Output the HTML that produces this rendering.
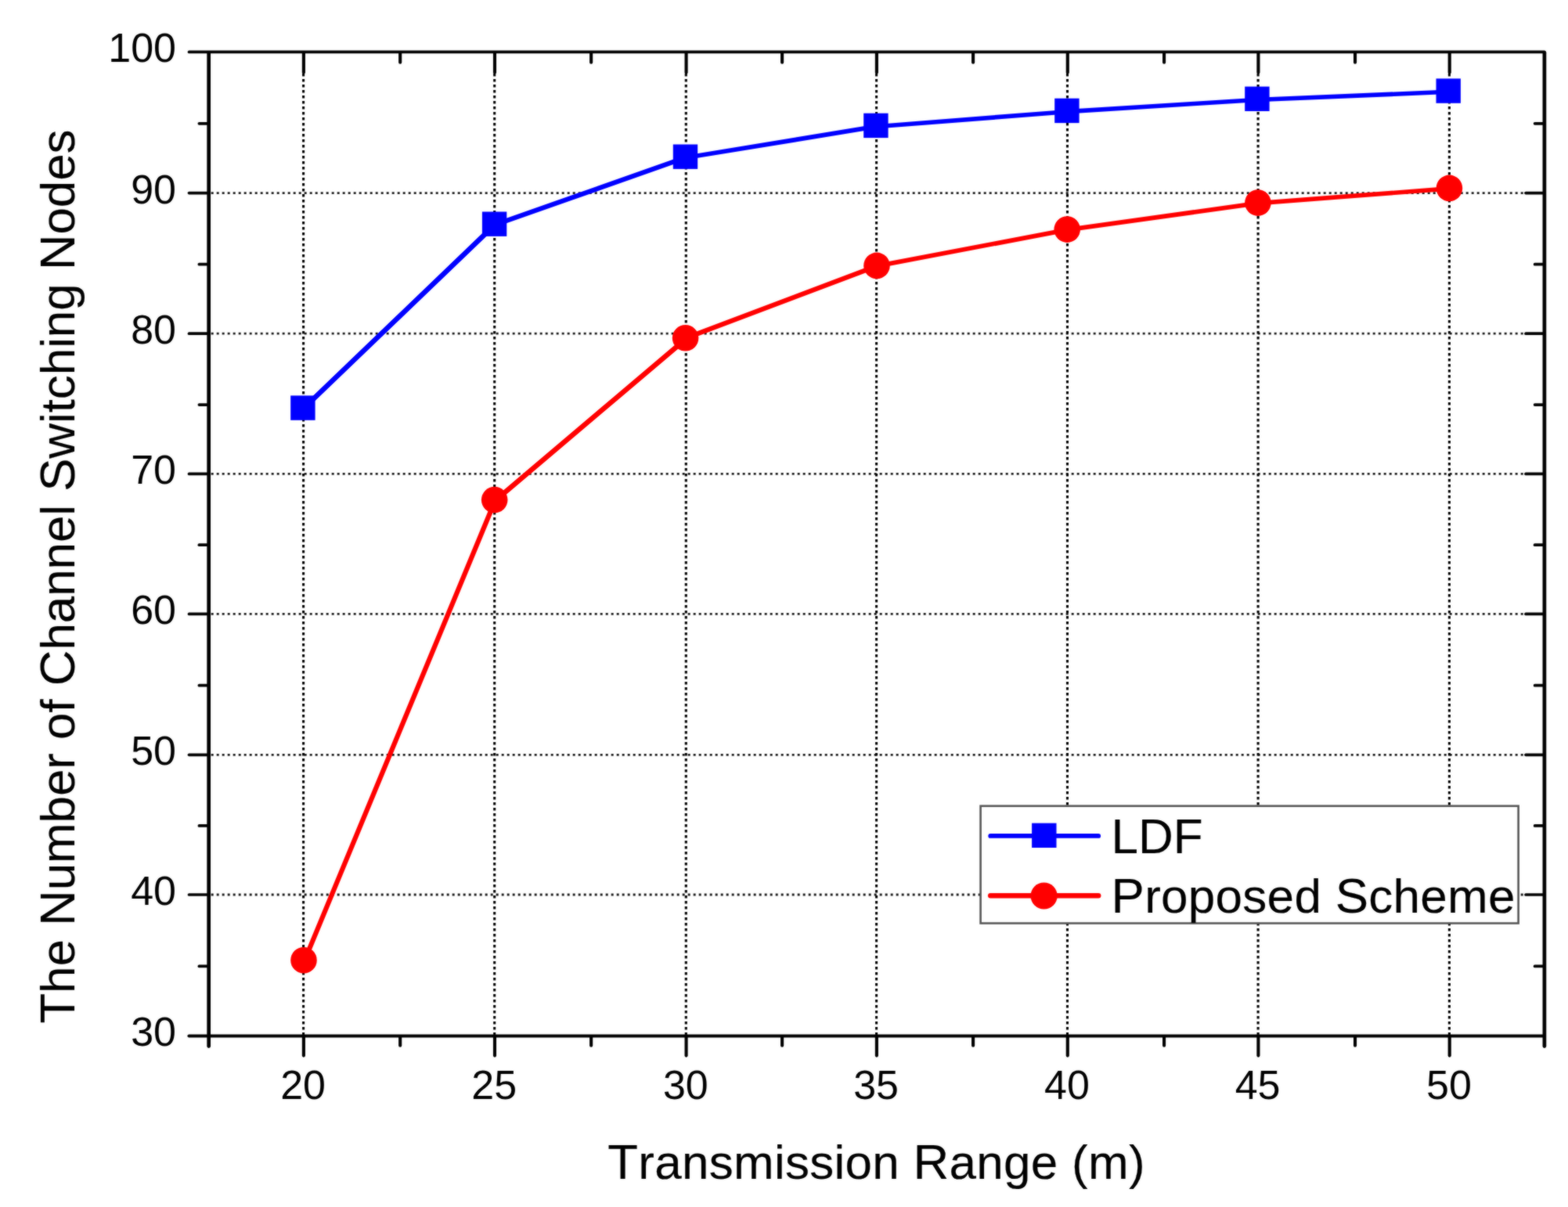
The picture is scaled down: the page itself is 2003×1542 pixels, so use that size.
<!DOCTYPE html>
<html lang="en">
<head>
<meta charset="utf-8">
<title>The Number of Channel Switching Nodes vs Transmission Range</title>
<style>
html,body{margin:0;padding:0;background:#fff;overflow:hidden;}
body{width:2003px;height:1542px;overflow:hidden;}
svg{display:block;}
text{font-family:"Liberation Sans","DejaVu Sans",sans-serif;fill:#000;}
</style>
</head>
<body>
<svg width="2003" height="1542" viewBox="0 0 2003 1542" role="img" aria-label="Line chart: number of channel switching nodes versus transmission range">
<defs><filter id="soft" filterUnits="userSpaceOnUse" x="0" y="0" width="2003" height="1542" color-interpolation-filters="sRGB"><feGaussianBlur in="SourceGraphic" stdDeviation="0.9" result="b"/><feComposite in="SourceGraphic" in2="b" operator="arithmetic" k1="0" k2="0.5" k3="0.5" k4="0"/></filter></defs>
<g filter="url(#soft)">
<rect x="0" y="0" width="2003" height="1542" fill="#ffffff"/>
<g fill="none" stroke="#000" stroke-width="3.1" stroke-dasharray="3.3 3.7">
<line x1="387.60" y1="94.10" x2="387.60" y2="1323.30"/>
<line x1="631.70" y1="94.10" x2="631.70" y2="1323.30"/>
<line x1="876.30" y1="94.10" x2="876.30" y2="1323.30"/>
<line x1="1119.60" y1="94.10" x2="1119.60" y2="1323.30"/>
<line x1="1363.50" y1="94.10" x2="1363.50" y2="1323.30"/>
<line x1="1607.10" y1="94.10" x2="1607.10" y2="1323.30"/>
<line x1="1851.40" y1="94.10" x2="1851.40" y2="1323.30"/>
</g>
<g fill="none" stroke="#000" stroke-width="2.8" stroke-dasharray="3 4" stroke-opacity="0.9">
<line x1="269.70" y1="1143.00" x2="1947.20" y2="1143.00"/>
<line x1="269.70" y1="964.30" x2="1947.20" y2="964.30"/>
<line x1="269.70" y1="784.40" x2="1947.20" y2="784.40"/>
<line x1="269.70" y1="605.40" x2="1947.20" y2="605.40"/>
<line x1="269.70" y1="426.20" x2="1947.20" y2="426.20"/>
<line x1="269.70" y1="246.60" x2="1947.20" y2="246.60"/>
</g>
<g fill="none" stroke="#0000ff" stroke-linecap="round">
<line x1="386.9" y1="522.6" x2="631.6" y2="287.7" stroke-width="6.49"/>
<line x1="631.6" y1="287.4" x2="875.5" y2="201.4" stroke-width="6.12"/>
<line x1="875.5" y1="201.5" x2="1118.9" y2="161.7" stroke-width="5.82"/>
<line x1="1118.9" y1="161.7" x2="1362.9" y2="142.7" stroke-width="5.65"/>
<line x1="1362.9" y1="142.6" x2="1605.9" y2="127.5" stroke-width="5.62"/>
<line x1="1605.9" y1="127.5" x2="1850.2" y2="117.3" stroke-width="5.58"/>
</g>
<rect x="371.20" y="505.40" width="31.4" height="31.4" fill="#0000ff"/>
<rect x="615.90" y="270.50" width="31.4" height="31.4" fill="#0000ff"/>
<rect x="859.80" y="184.50" width="31.4" height="31.4" fill="#0000ff"/>
<rect x="1103.20" y="144.70" width="31.4" height="31.4" fill="#0000ff"/>
<rect x="1347.20" y="125.70" width="31.4" height="31.4" fill="#0000ff"/>
<rect x="1590.20" y="110.60" width="31.4" height="31.4" fill="#0000ff"/>
<rect x="1834.50" y="100.40" width="31.4" height="31.4" fill="#0000ff"/>
<g fill="none" stroke="#ff0000" stroke-linecap="round">
<line x1="389.1" y1="1226.9" x2="632.8" y2="638.8" stroke-width="6.20"/>
<line x1="632.3" y1="639.8" x2="876.2" y2="433.0" stroke-width="6.48"/>
<line x1="875.6" y1="432.2" x2="1120.0" y2="339.8" stroke-width="6.15"/>
<line x1="1120.0" y1="339.9" x2="1363.2" y2="293.6" stroke-width="5.86"/>
<line x1="1363.2" y1="293.6" x2="1606.9" y2="259.6" stroke-width="5.77"/>
<line x1="1606.9" y1="259.6" x2="1851.4" y2="240.9" stroke-width="5.65"/>
</g>
<circle cx="388.00" cy="1226.70" r="16.8" fill="#ff0000"/>
<circle cx="631.70" cy="638.60" r="16.8" fill="#ff0000"/>
<circle cx="875.60" cy="431.80" r="16.8" fill="#ff0000"/>
<circle cx="1120.00" cy="339.40" r="16.8" fill="#ff0000"/>
<circle cx="1363.20" cy="293.10" r="16.8" fill="#ff0000"/>
<circle cx="1606.90" cy="259.10" r="16.8" fill="#ff0000"/>
<circle cx="1851.40" cy="240.40" r="16.8" fill="#ff0000"/>
<g fill="none" stroke="#000" stroke-width="3.7" stroke-linecap="round">
<line x1="241.50" y1="66.40" x2="1972.90" y2="66.40"/>
<line x1="241.50" y1="1323.50" x2="1972.90" y2="1323.50" stroke-width="4.2"/>
<line x1="265.70" y1="1234.42" x2="254.40" y2="1234.42"/>
<line x1="1971.90" y1="1234.42" x2="1960.60" y2="1234.42"/>
<line x1="265.70" y1="1143.00" x2="241.50" y2="1143.00"/>
<line x1="1971.90" y1="1143.00" x2="1949.00" y2="1143.00"/>
<line x1="265.70" y1="1054.95" x2="254.40" y2="1054.95"/>
<line x1="1971.90" y1="1054.95" x2="1960.60" y2="1054.95"/>
<line x1="265.70" y1="964.30" x2="241.50" y2="964.30"/>
<line x1="1971.90" y1="964.30" x2="1949.00" y2="964.30"/>
<line x1="265.70" y1="875.65" x2="254.40" y2="875.65"/>
<line x1="1971.90" y1="875.65" x2="1960.60" y2="875.65"/>
<line x1="265.70" y1="784.40" x2="241.50" y2="784.40"/>
<line x1="1971.90" y1="784.40" x2="1949.00" y2="784.40"/>
<line x1="265.70" y1="696.20" x2="254.40" y2="696.20"/>
<line x1="1971.90" y1="696.20" x2="1960.60" y2="696.20"/>
<line x1="265.70" y1="605.40" x2="241.50" y2="605.40"/>
<line x1="1971.90" y1="605.40" x2="1949.00" y2="605.40"/>
<line x1="265.70" y1="517.10" x2="254.40" y2="517.10"/>
<line x1="1971.90" y1="517.10" x2="1960.60" y2="517.10"/>
<line x1="265.70" y1="426.20" x2="241.50" y2="426.20"/>
<line x1="1971.90" y1="426.20" x2="1949.00" y2="426.20"/>
<line x1="265.70" y1="337.70" x2="254.40" y2="337.70"/>
<line x1="1971.90" y1="337.70" x2="1960.60" y2="337.70"/>
<line x1="265.70" y1="246.60" x2="241.50" y2="246.60"/>
<line x1="1971.90" y1="246.60" x2="1949.00" y2="246.60"/>
<line x1="265.70" y1="157.80" x2="254.40" y2="157.80"/>
<line x1="1971.90" y1="157.80" x2="1960.60" y2="157.80"/>
</g>
<g fill="none" stroke="#000" stroke-width="4.7" stroke-linecap="round">
<line x1="266.70" y1="67.30" x2="266.70" y2="1336.60"/>
<line x1="1972.90" y1="67.30" x2="1972.90" y2="1336.60"/>
</g>
<g fill="none" stroke="#000" stroke-width="4.1" stroke-linecap="round">
<line x1="387.90" y1="1324.30" x2="387.90" y2="1348.60"/>
<line x1="387.90" y1="67.40" x2="387.90" y2="92.60"/>
<line x1="511.19" y1="1324.30" x2="511.19" y2="1335.70"/>
<line x1="511.19" y1="67.40" x2="511.19" y2="79.70"/>
<line x1="632.00" y1="1324.30" x2="632.00" y2="1348.60"/>
<line x1="632.00" y1="67.40" x2="632.00" y2="92.60"/>
<line x1="755.16" y1="1324.30" x2="755.16" y2="1335.70"/>
<line x1="755.16" y1="67.40" x2="755.16" y2="79.70"/>
<line x1="876.60" y1="1324.30" x2="876.60" y2="1348.60"/>
<line x1="876.60" y1="67.40" x2="876.60" y2="92.60"/>
<line x1="999.12" y1="1324.30" x2="999.12" y2="1335.70"/>
<line x1="999.12" y1="67.40" x2="999.12" y2="79.70"/>
<line x1="1119.90" y1="1324.30" x2="1119.90" y2="1348.60"/>
<line x1="1119.90" y1="67.40" x2="1119.90" y2="92.60"/>
<line x1="1243.10" y1="1324.30" x2="1243.10" y2="1335.70"/>
<line x1="1243.10" y1="67.40" x2="1243.10" y2="79.70"/>
<line x1="1363.80" y1="1324.30" x2="1363.80" y2="1348.60"/>
<line x1="1363.80" y1="67.40" x2="1363.80" y2="92.60"/>
<line x1="1487.07" y1="1324.30" x2="1487.07" y2="1335.70"/>
<line x1="1487.07" y1="67.40" x2="1487.07" y2="79.70"/>
<line x1="1607.40" y1="1324.30" x2="1607.40" y2="1348.60"/>
<line x1="1607.40" y1="67.40" x2="1607.40" y2="92.60"/>
<line x1="1731.03" y1="1324.30" x2="1731.03" y2="1335.70"/>
<line x1="1731.03" y1="67.40" x2="1731.03" y2="79.70"/>
<line x1="1851.70" y1="1324.30" x2="1851.70" y2="1348.60"/>
<line x1="1851.70" y1="67.40" x2="1851.70" y2="92.60"/>
</g>
<text transform="translate(387.10,1403.70)" font-size="52" text-anchor="middle">20</text>
<text transform="translate(631.20,1403.70)" font-size="52" text-anchor="middle">25</text>
<text transform="translate(875.80,1403.70)" font-size="52" text-anchor="middle">30</text>
<text transform="translate(1119.10,1403.70)" font-size="52" text-anchor="middle">35</text>
<text transform="translate(1363.00,1403.70)" font-size="52" text-anchor="middle">40</text>
<text transform="translate(1606.60,1403.70)" font-size="52" text-anchor="middle">45</text>
<text transform="translate(1850.90,1403.70)" font-size="52" text-anchor="middle">50</text>
<text transform="translate(225.00,1336.25)" font-size="52" text-anchor="end">30</text>
<text transform="translate(225.00,1156.00)" font-size="52" text-anchor="end">40</text>
<text transform="translate(225.00,977.30)" font-size="52" text-anchor="end">50</text>
<text transform="translate(225.00,797.40)" font-size="52" text-anchor="end">60</text>
<text transform="translate(225.00,618.40)" font-size="52" text-anchor="end">70</text>
<text transform="translate(225.00,439.20)" font-size="52" text-anchor="end">80</text>
<text transform="translate(225.00,259.60)" font-size="52" text-anchor="end">90</text>
<text transform="translate(225.00,79.40)" font-size="52" text-anchor="end">100</text>
<text transform="translate(776.30,1505.50)" font-size="62" text-anchor="start" stroke="#000" stroke-width="0.15" stroke-linejoin="round" textLength="686.3" lengthAdjust="spacing"><tspan font-size="63.4">T</tspan>ransmission <tspan font-size="63.4">R</tspan>ange (m)</text>
<text transform="translate(95.00,1307.60) rotate(-90)" font-size="62" text-anchor="start" stroke="#000" stroke-width="0.15" stroke-linejoin="round" textLength="1142.2" lengthAdjust="spacing"><tspan font-size="63.4">T</tspan>he <tspan font-size="63.4">N</tspan>umber of <tspan font-size="63.4">C</tspan>hannel <tspan font-size="63.4">S</tspan>witching <tspan font-size="63.4">N</tspan>odes</text>
<rect x="1252.60" y="1029.70" width="687.00" height="149.80" fill="#fff" stroke="#555555" stroke-width="2.6"/>
<line x1="1265.2" y1="1067.9" x2="1403.2" y2="1067.9" stroke="#0000ff" stroke-width="5.8" stroke-linecap="round"/>
<rect x="1318.10" y="1051.60" width="31.4" height="31.4" fill="#0000ff"/>
<line x1="1265.2" y1="1144.3" x2="1403.2" y2="1144.3" stroke="#ff0000" stroke-width="6.4" stroke-linecap="round"/>
<circle cx="1333.6" cy="1144.5" r="17.1" fill="#ff0000"/>
<text transform="translate(1419.60,1089.70) scale(1,1.03)" font-size="62" text-anchor="start" stroke="#000" stroke-width="0.15" stroke-linejoin="round">LDF</text>
<text transform="translate(1419.60,1165.50)" font-size="62" text-anchor="start" stroke="#000" stroke-width="0.15" stroke-linejoin="round" textLength="515.8" lengthAdjust="spacing"><tspan font-size="63.4">P</tspan>roposed <tspan font-size="63.4">S</tspan>cheme</text>
</g>
</svg>
</body>
</html>
